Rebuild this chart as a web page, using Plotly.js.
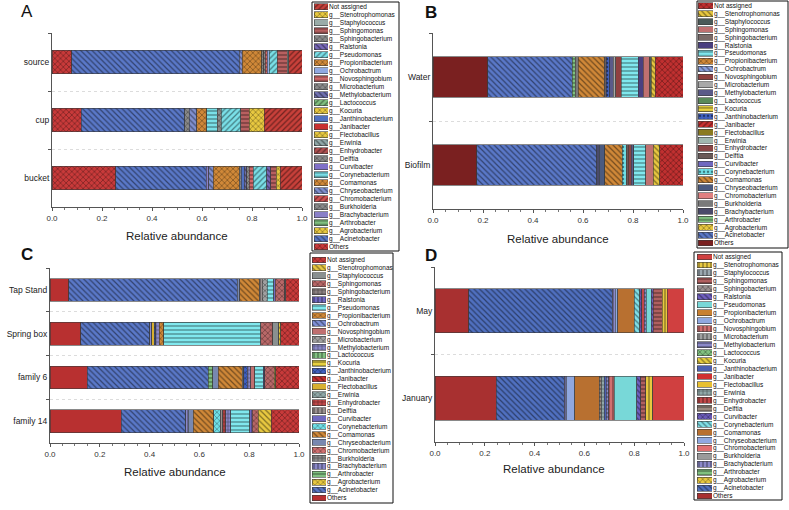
<!DOCTYPE html>
<html>
<head>
<meta charset="utf-8">
<script src="https://cdn.plot.ly/plotly-3.0.1.min.js"></script>
<style>
  html, body { margin: 0; padding: 0; background: #fff; }
  #chart { width: 789px; height: 510px; }
</style>
</head>
<body>
<div id="chart"></div>
<script>
// legend order, top to bottom; bars stack the other way (Others on the left)
var genera = ['Not assigned','g__Stenotrophomonas','g__Staphylococcus','g__Sphingomonas','g__Sphingobacterium',
  'g__Ralstonia','g__Pseudomonas','g__Propionibacterium','g__Ochrobactrum','g__Novosphingobium',
  'g__Microbacterium','g__Methylobacterium','g__Lactococcus','g__Kocuria','g__Janthinobacterium',
  'g__Janibacter','g__Flectobacillus','g__Erwinia','g__Enhydrobacter','g__Delftia',
  'g__Curvibacter','g__Corynebacterium','g__Comamonas','g__Chryseobacterium','g__Chromobacterium',
  'g__Burkholderia','g__Brachybacterium','g__Arthrobacter','g__Agrobacterium','g__Acinetobacter','Others'];

// panel A
var barsA = ['source', 'cup', 'bucket'];
var A_source = [0.054,0,0.005,0.040,0,0,0.032,0,0.008,0.008,
  0.006,0,0,0,0,0,0,0,0,0.008,
  0,0,0.078,0.012,0,0,0,0,0,0.670, 0.079];
var A_cup = [0.152,0.059,0,0.035,0,0,0.077,0,0,0,
  0.016,0,0,0,0,0,0,0,0,0,
  0,0.043,0.040,0.029,0,0.018,0,0,0,0.414, 0.117];
var A_bucket = [0.088,0.016,0,0.021,0,0.016,0.054,0,0,0.016,
  0.011,0.010,0,0,0.011,0,0,0,0,0.008,
  0,0,0.104,0.018,0,0,0.011,0,0,0.362, 0.254];

// panel B
var barsB = ['Water', 'Biofilm'];
var B_water = [0.111,0.016,0.006,0.027,0,0.020,0.067,0,0,0.023,
  0.010,0.013,0,0,0.014,0,0,0,0,0.009,
  0,0,0.104,0,0,0.012,0,0.011,0,0.339, 0.218];
var B_biofilm = [0.093,0.027,0,0.029,0,0,0.048,0,0,0,
  0,0.010,0,0,0,0,0,0,0.012,0.008,
  0,0.017,0.069,0.022,0,0,0.010,0,0,0.481, 0.174];

// panel C
var barsC = ['Tap Stand', 'Spring box', 'family 6', 'family 14'];
var C_tap = [0.054,0,0.004,0.037,0,0.007,0.026,0,0,0,
  0.019,0,0,0,0,0,0,0,0,0.013,
  0,0,0.077,0.011,0,0,0,0,0,0.676, 0.076];
var C_spring = [0.074,0.008,0.024,0.047,0,0,0.390,0.019,0,0,
  0,0.013,0,0,0.007,0,0.010,0,0,0,
  0,0,0,0,0,0,0.007,0,0,0.278, 0.123];
var C_fam6 = [0.093,0.007,0,0.037,0,0.006,0.034,0,0,0.017,
  0,0.013,0,0,0.014,0,0,0,0,0.006,
  0,0,0.097,0.023,0,0,0,0.017,0,0.486, 0.150];
var C_fam14 = [0.111,0.053,0,0.023,0,0.010,0.078,0,0,0,
  0,0.020,0,0,0,0,0,0,0.012,0.009,
  0,0.027,0.081,0.020,0,0,0.010,0,0,0.259, 0.287];

// panel D
var barsD = ['May', 'January'];
var D_may = [0.068,0.020,0,0.036,0,0.007,0.020,0,0,0,
  0,0.009,0,0,0,0,0,0,0.009,0,
  0.009,0.022,0.067,0.010,0,0,0.011,0,0,0.576, 0.136];
var D_jan = [0.126,0.028,0,0.019,0,0.017,0.090,0,0,0.023,
  0,0.009,0,0,0.009,0,0,0.012,0,0.008,
  0,0,0.098,0.033,0,0,0.009,0,0,0.274, 0.245];

// fill colours and hatch shapes per panel (legend order)
var colorsA = ['#c8403a','#e8c840','#9aaca8','#b86060','#8a8a8a','#7868b8','#7ae0e8','#d08838','#90a8e0','#d06868',
  '#8a8a8a','#7070b0','#80c080','#e8c840','#5070c0','#c83030','#e8c840','#90a8a8','#b05050','#8a8a8a',
  '#8070c8','#7ae0e8','#d08838','#8090d0','#d05050','#8a8a8a','#8a80c8','#80c080','#e8c840','#5a78c8','#c83a3a'];
var shapesA = ['/','x','','-','x','\\','/','x','','-',
  'x','\\','/','x','','','x','\\','/','x',
  '','-','x','\\','/','x','','-','x','\\','x'];
var colorsB = ['#c03030','#e8c840','#4a5a58','#c07070','#7a6a68','#4a4080','#80e8ee','#d08838','#8aa0e0','#904040',
  '#a8a8a8','#5a5a88','#5a8a5a','#e8d040','#4060c0','#c83030','#8a7a20','#a0b8b0','#8a4545','#6a5a58',
  '#7068c0','#70e0e8','#d08838','#4a5a80','#e08080','#7a7a7a','#4a4a6a','#80c080','#e8c840','#5a78c8','#7a2020'];
var shapesB = ['x','\\','','','','','-','x','\\','',
  '','','','-','.','/','','','','',
  '','.','\\','','','','','-','x','\\',''];
var colorsC = ['#c83a3a','#e8c840','#8a9090','#b86868','#8a8080','#7068c0','#80e8ee','#d08838','#8090d8','#c07070',
  '#a0a0a0','#8a88c8','#80c080','#e8d040','#4060c0','#c83030','#d8b030','#90a8a8','#c04848','#9a9090',
  '#7068c0','#70e0e8','#d08838','#7888b0','#d07070','#8a8a8a','#8a88c8','#80c080','#e8c840','#5a78c8','#b83030'];
var shapesC = ['x','\\','','x','+','|','-','x','\\','',
  'x','+','|','-','x','\\','','x','+','|',
  '','x','\\','','x','+','|','-','x','\\',''];
var colorsD = ['#d04040','#e8c840','#9aa8b0','#b06060','#9a9090','#7060c0','#78d8d8','#c88030','#90a8e0','#d07070',
  '#a0a0a0','#8a88c8','#80c080','#e8d040','#4a60b0','#d03030','#e8c030','#90a8a8','#c04848','#9a8a80',
  '#6a5ab8','#80e0e8','#b87030','#90a8e0','#e07070','#9a9a9a','#8a88c8','#80c080','#e8c840','#5070c0','#a83030'];
var shapesD = ['','|','|','-','x','\\','','','','|',
  '|','-','x','\\','','','','+','|','-',
  'x','\\','','','','','|','-','x','\\',''];

var W = 789, H = 510;
var FONT = 'Liberation Sans, Arial, sans-serif';
function fx(a, b) { return [a / W, b / W]; }
function fy(top, bottom) { return [1 - bottom / H, 1 - top / H]; }
function shade(hex, f) {
  var n = parseInt(hex.slice(1), 16);
  var r = Math.round(((n >> 16) & 255) * f), g = Math.round(((n >> 8) & 255) * f), b = Math.round((n & 255) * f);
  return 'rgb(' + r + ',' + g + ',' + b + ')';
}
function fill(color, shape) {
  return {
    color: color,
    line: {color: '#3a3a3a', width: 0.6},
    pattern: {shape: shape, fgcolor: shade(color, 0.55), bgcolor: color, size: 4, solidity: 0.3, fillmode: 'replace'}
  };
}

var panels = [
  {letter: 'A', cats: barsA, rows: [A_source, A_cup, A_bucket], colors: colorsA, shapes: shapesA, w: 0.4,
   px: [52, 302], py: [33, 207], box: [312, 399, 2, 251], sw: [314, 328], ly: [2.7, 250.7],
   letterPos: [27, 11], titlePos: [177, 236]},
  {letter: '<b>B</b>', cats: barsB, rows: [B_water, B_biofilm], colors: colorsB, shapes: shapesB, w: 0.46,
   px: [433, 683], py: [33, 209], box: [697, 788, 1, 248], sw: [698, 713], ly: [1.8, 247],
   letterPos: [431, 12], titlePos: [558, 239]},
  {letter: '<b>C</b>', cats: barsC, rows: [C_tap, C_spring, C_fam6, C_fam14], colors: colorsC, shapes: shapesC, w: 0.52,
   px: [50, 299], py: [268, 443], box: [310, 393, 253, 503], sw: [312, 326], ly: [256, 501.9],
   letterPos: [27, 254], titlePos: [175, 472]},
  {letter: '<b>D</b>', cats: barsD, rows: [D_may, D_jan], colors: colorsD, shapes: shapesD, w: 0.5,
   px: [435, 684], py: [267, 442], box: [694, 782, 252, 500], sw: [697, 712], ly: [253, 500],
   letterPos: [431, 255], titlePos: [554, 469]}
];

var data = [];
var layout = {
  width: W, height: H,
  margin: {l: 0, r: 0, t: 0, b: 0},
  paper_bgcolor: '#fff', plot_bgcolor: 'rgba(0,0,0,0)',
  font: {family: FONT, color: '#222'},
  barmode: 'stack',
  showlegend: false,
  hovermode: false,
  annotations: [],
  shapes: []
};

panels.forEach(function (p, i) {
  var n = i + 1, ln = i + 5;
  // stacked bars, Others first so it sits on the left
  for (var g = genera.length - 1; g >= 0; g--) {
    var xs = [], ys = [];
    p.rows.forEach(function (row, b) {
      if (row[g] > 0) { xs.push(row[g]); ys.push(p.cats[b]); }
    });
    if (!xs.length) continue;
    data.push({
      type: 'bar', orientation: 'h', x: xs, y: ys, width: p.w,
      xaxis: 'x' + n, yaxis: 'y' + n, name: genera[g],
      marker: fill(p.colors[g], p.shapes[g])
    });
  }
  // legend swatches as their own small subplot, one bar per entry
  genera.forEach(function (name, g) {
    data.push({
      type: 'bar', orientation: 'h', x: [1], y: [name], width: 0.74,
      xaxis: 'x' + ln, yaxis: 'y' + ln, name: name,
      marker: fill(p.colors[g], p.shapes[g])
    });
  });

  layout['xaxis' + n] = {
    domain: fx(p.px[0], p.px[1]), anchor: 'y' + n, range: [0, 1], tick0: 0, dtick: 0.2, tickformat: '.1f',
    showline: true, linecolor: '#555', linewidth: 1, ticks: 'outside', ticklen: 3, tickcolor: '#555',
    minor: {dtick: 0.05, ticks: 'outside', ticklen: 2, tickcolor: '#777'},
    showgrid: false, zeroline: false, tickfont: {size: 8, color: '#333'}, automargin: false
  };
  layout['yaxis' + n] = {
    domain: fy(p.py[0], p.py[1]), anchor: 'x' + n, type: 'category',
    categoryorder: 'array', categoryarray: p.cats, range: [p.cats.length - 0.5, -0.5],
    tickson: 'boundaries', ticks: 'outside', ticklen: 3, tickcolor: '#555',
    showline: true, linecolor: '#555', linewidth: 1,
    showgrid: true, gridcolor: '#dcdcdc', griddash: 'dot',
    zeroline: false, tickfont: {size: 8.5, color: '#222'}, automargin: false
  };
  layout['xaxis' + ln] = {domain: fx(p.sw[0], p.sw[1]), anchor: 'y' + ln, range: [0, 1], visible: false};
  layout['yaxis' + ln] = {
    domain: fy(p.ly[0], p.ly[1]), anchor: 'x' + ln, side: 'right', type: 'category',
    categoryorder: 'array', categoryarray: genera,
    range: [genera.length - 0.5, -0.5], tickmode: 'array', tickvals: genera, ticktext: genera,
    ticks: '', showline: false, showgrid: false, zeroline: false,
    tickfont: {size: 6.5, color: '#111'}, automargin: false
  };

  layout.shapes.push({
    type: 'rect', xref: 'paper', yref: 'paper',
    x0: p.box[0] / W, x1: p.box[1] / W, y0: 1 - p.box[3] / H, y1: 1 - p.box[2] / H,
    line: {color: '#111', width: 1}
  });
  layout.annotations.push({
    text: p.letter, xref: 'paper', yref: 'paper', x: p.letterPos[0] / W, y: 1 - p.letterPos[1] / H,
    showarrow: false, xanchor: 'center', yanchor: 'middle', font: {size: 17, color: '#111'}
  });
  layout.annotations.push({
    text: 'Relative abundance', xref: 'paper', yref: 'paper', x: p.titlePos[0] / W, y: 1 - p.titlePos[1] / H,
    showarrow: false, xanchor: 'center', yanchor: 'middle', font: {size: 11.5, color: '#222'}
  });
});

Plotly.newPlot('chart', data, layout, {staticPlot: true, displayModeBar: false});
</script>
</body>
</html>
